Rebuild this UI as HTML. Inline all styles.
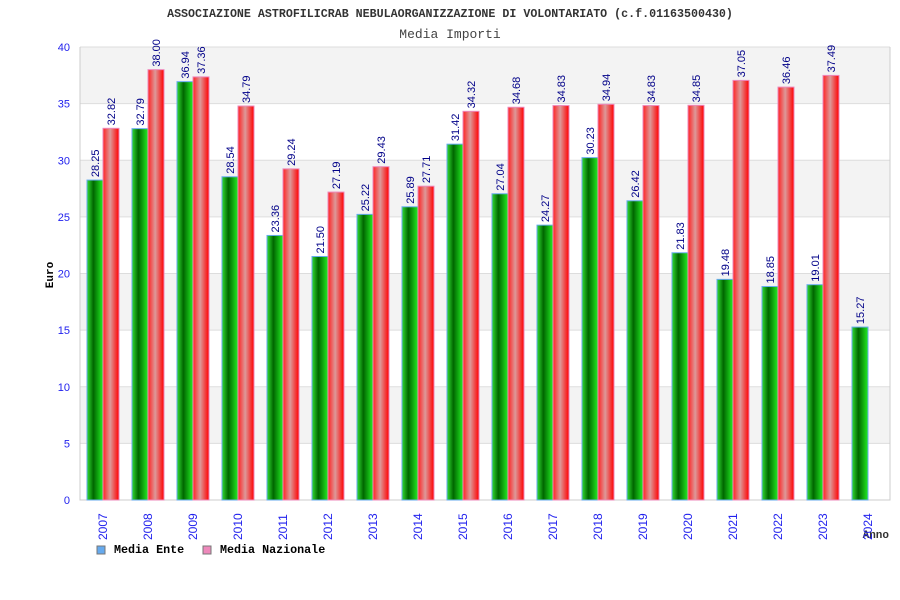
<!DOCTYPE html>
<html><head><meta charset="utf-8"><style>body{margin:0;background:#fff}svg{display:block}</style></head>
<body>
<svg id="c" width="900" height="600" xmlns="http://www.w3.org/2000/svg">
<defs>
<linearGradient id="gG" x1="0" x2="1"><stop offset="0" stop-color="#33dd33"/><stop offset="0.4" stop-color="#006600"/><stop offset="1" stop-color="#22ee22"/></linearGradient>
<linearGradient id="gR" x1="0" x2="1"><stop offset="0" stop-color="#ff2222"/><stop offset="0.45" stop-color="#dd9999"/><stop offset="1" stop-color="#ff0000"/></linearGradient>
</defs>
<text x="450" y="17" text-anchor="middle" font-family="Liberation Mono, monospace" font-size="11.65" font-weight="bold" fill="#333">ASSOCIAZIONE ASTROFILICRAB NEBULAORGANIZZAZIONE DI VOLONTARIATO (c.f.01163500430)</text>
<text x="450" y="38" text-anchor="middle" font-family="Liberation Mono, monospace" font-size="13" fill="#444">Media Importi</text>
<text x="0" y="0" transform="translate(53,275) rotate(-90)" text-anchor="middle" font-family="Liberation Mono, monospace" font-size="11" font-weight="bold" fill="#000">Euro</text>
<text x="889" y="538" text-anchor="end" font-family="Liberation Mono, monospace" font-size="11" font-weight="bold" fill="#333">Anno</text>
<g id="plot"></g>
<g>
<rect x="97" y="546" width="8" height="8" fill="#66aaee" stroke="#777"/>
<text x="114" y="553" font-family="Liberation Mono, monospace" font-size="11.7" font-weight="bold">Media Ente</text>
<rect x="203" y="546" width="8" height="8" fill="#ee88bb" stroke="#777"/>
<text x="220" y="553" font-family="Liberation Mono, monospace" font-size="11.7" font-weight="bold">Media Nazionale</text>
</g>
</svg>
<script>
const years=["2007","2008","2009","2010","2011","2012","2013","2014","2015","2016","2017","2018","2019","2020","2021","2022","2023","2024"];
const ente=[28.25,32.79,36.94,28.54,23.36,21.50,25.22,25.89,31.42,27.04,24.27,30.23,26.42,21.83,19.48,18.85,19.01,15.27];
const naz=[32.82,38.00,37.36,34.79,29.24,27.19,29.43,27.71,34.32,34.68,34.83,34.94,34.83,34.85,37.05,36.46,37.49,null];
const yTicks=[0,5,10,15,20,25,30,35,40];
const NS="http://www.w3.org/2000/svg";
const L=80,R=890,T=47,B=500,ymax=40;
const y=v=>B-(v/ymax)*(B-T);
const gw=(R-L)/years.length;
const x=i=>L+i*gw;
const g=document.getElementById('plot');
function mk(t,a){const e=document.createElementNS(NS,t);for(const k in a)e.setAttribute(k,a[k]);g.appendChild(e);return e;}
for(let i=0;i<yTicks.length-1;i++){if(i%2===1){const r=mk('rect',{x:L,y:y(yTicks[i+1]),width:R-L,height:y(yTicks[i])-y(yTicks[i+1]),fill:'#f3f3f3'});}}
yTicks.forEach(v=>{const l=mk('line',{x1:L,x2:R,y1:y(v),y2:y(v),stroke:'#dddddd'});
const t=mk('text',{x:70,y:y(v)+4,'text-anchor':'end','font-family':'Liberation Sans, sans-serif','font-size':11,fill:'#2222ee'});t.textContent=v;});
const ax=mk('path',{d:`M${L},${T}V${B}H${R}V${T}`,fill:'none',stroke:'#cccccc'});
function lab(cx,top,v){const t=mk('text',{transform:`translate(${cx+4},${top-3}) rotate(-90)`,'font-family':'Liberation Sans, sans-serif','font-size':11,fill:'#000088'});t.textContent=v.toFixed(2);}
years.forEach((yr,i)=>{const x0=x(i)+7;
const b=mk('rect',{x:x0,y:y(ente[i]),width:16,height:B-y(ente[i]),fill:'url(#gG)',stroke:'#66aaee','stroke-width':1});lab(x0+8,y(ente[i]),ente[i]);
if(naz[i]!=null){const r=mk('rect',{x:x0+16,y:y(naz[i]),width:16,height:B-y(naz[i]),fill:'url(#gR)',stroke:'#ee88bb','stroke-width':1});lab(x0+24,y(naz[i]),naz[i]);}
const t=mk('text',{transform:`translate(${x0+20},${540}) rotate(-90)`,'font-family':'Liberation Sans, sans-serif','font-size':12,fill:'#2222ee'});t.textContent=yr;});
</script>
</body></html>
